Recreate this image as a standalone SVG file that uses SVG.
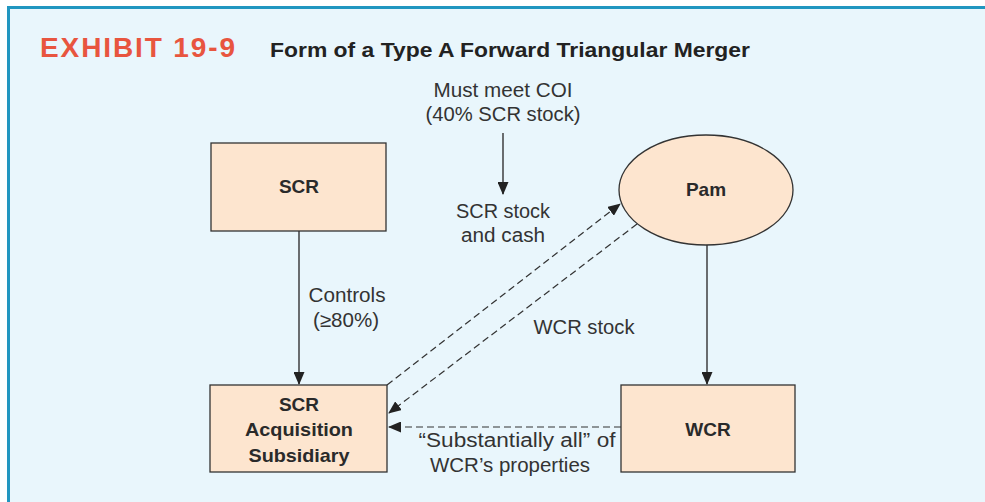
<svg xmlns="http://www.w3.org/2000/svg" width="985" height="502" viewBox="0 0 985 502">
<style>
.box{fill:#fde5cf;stroke:#333;stroke-width:1.3}
.lbl{font-family:"Liberation Sans",Arial,sans-serif;font-weight:bold;font-size:19px;fill:#2a2a2a;text-anchor:middle}
.txt{font-family:"Liberation Sans",Arial,sans-serif;font-size:20px;fill:#333;text-anchor:middle}
.ln{stroke:#333;stroke-width:1.4;fill:none}
.dash{stroke:#333;stroke-width:1.2;fill:none;stroke-dasharray:7 4}
</style>
<defs>
<marker id="ah" markerWidth="13" markerHeight="11" refX="12" refY="5.5" orient="auto" markerUnits="userSpaceOnUse">
<path d="M0,0 L13,5.5 L0,11 Z" fill="#222"/>
</marker>
</defs>
<rect x="0" y="0" width="985" height="502" fill="#fff"/>
<rect x="8" y="7" width="977" height="495" fill="#e9f6fc"/>
<line x1="7" y1="7.5" x2="985" y2="7.5" stroke="#2196c0" stroke-width="3"/>
<line x1="8.5" y1="6" x2="8.5" y2="502" stroke="#2196c0" stroke-width="3"/>
<text x="40" y="57" font-family="'Liberation Sans',Arial,sans-serif" font-weight="bold" font-size="28" fill="#e8553f" textLength="195" lengthAdjust="spacing">EXHIBIT 19-9</text>
<text x="270" y="57" font-family="'Liberation Sans',Arial,sans-serif" font-weight="bold" font-size="21" fill="#222" textLength="480" lengthAdjust="spacingAndGlyphs">Form of a Type A Forward Triangular Merger</text>
<g id="connectors">
<line class="ln" x1="299" y1="231" x2="299" y2="384" marker-end="url(#ah)"/>
<line class="ln" x1="707" y1="245" x2="707" y2="384" marker-end="url(#ah)"/>
<line class="ln" x1="503" y1="133" x2="503" y2="194" marker-end="url(#ah)"/>
<line class="dash" x1="387" y1="385" x2="620" y2="204" marker-end="url(#ah)"/>
<line class="dash" x1="637" y1="224" x2="389" y2="413" marker-end="url(#ah)"/>
<line class="dash" x1="621" y1="427" x2="389" y2="427" marker-end="url(#ah)"/>
</g>
<g id="labels">
<text class="txt" x="503" y="97" textLength="139" lengthAdjust="spacingAndGlyphs">Must meet COI</text>
<text class="txt" x="503" y="121" textLength="155" lengthAdjust="spacingAndGlyphs">(40% SCR stock)</text>
<text class="txt" x="503" y="218" textLength="94" lengthAdjust="spacingAndGlyphs">SCR stock</text>
<text class="txt" x="503" y="242" textLength="84" lengthAdjust="spacingAndGlyphs">and cash</text>
<text class="txt" x="347" y="302" textLength="77" lengthAdjust="spacingAndGlyphs">Controls</text>
<text class="txt" x="346" y="327" textLength="66" lengthAdjust="spacingAndGlyphs">(≥80%)</text>
<text class="txt" x="584" y="334" textLength="101" lengthAdjust="spacingAndGlyphs">WCR stock</text>
<text class="txt" x="517" y="447" textLength="197" lengthAdjust="spacingAndGlyphs">“Substantially all” of</text>
<text class="txt" x="510" y="472" textLength="160" lengthAdjust="spacingAndGlyphs">WCR’s properties</text>
</g>
<g id="scr">
<rect class="box" x="211" y="143" width="175" height="88"/>
<text class="lbl" x="299" y="193">SCR</text>
</g>
<g id="pam">
<ellipse class="box" cx="706" cy="190" rx="87" ry="55"/>
<text class="lbl" x="706" y="196">Pam</text>
</g>
<g id="acq">
<rect class="box" x="210" y="385" width="177" height="87"/>
<text class="lbl" x="299" y="411">SCR</text>
<text class="lbl" x="299" y="436" textLength="108" lengthAdjust="spacingAndGlyphs">Acquisition</text>
<text class="lbl" x="299" y="462" textLength="101" lengthAdjust="spacingAndGlyphs">Subsidiary</text>
</g>
<g id="wcr">
<rect class="box" x="621" y="385" width="174" height="87"/>
<text class="lbl" x="708" y="436">WCR</text>
</g>
</svg>
